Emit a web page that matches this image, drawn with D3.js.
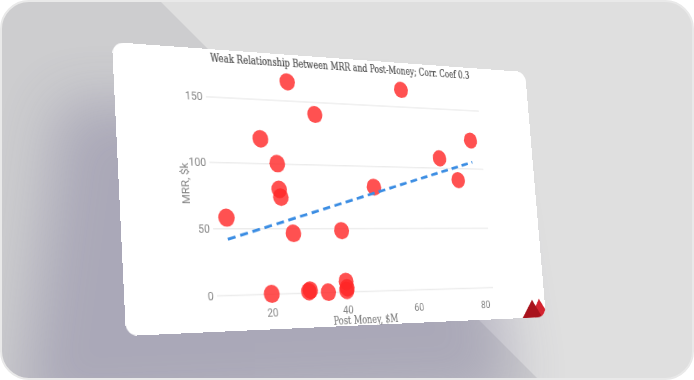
<!DOCTYPE html>
<html>
<head>
<meta charset="utf-8">
<script src="https://cdn.jsdelivr.net/npm/d3@7"></script>
<style>
  html, body { margin: 0; padding: 0; background: #ffffff; }
  #stage { position: relative; width: 694px; height: 380px; overflow: hidden; }
  #bg { position: absolute; left: 0; top: 0; }
  #card {
    position: absolute; left: 0; top: 0;
    width: 560px; height: 311px;
    background: #ffffff; border-radius: 13px; overflow: hidden;
    transform-origin: 0 0;
  }
  #chart { display: block; }
</style>
</head>
<body>
<div id="stage">
  <svg id="bg" width="694" height="380"></svg>
  <div id="card"><svg id="chart" width="560" height="311"></svg></div>
</div>
<script>
// Startups: post-money valuation ($M) vs monthly recurring revenue ($k)
const postMoney = [27.6, 59.5, 34.5, 19.6, 23.6, 23.7, 24.0, 9.8, 26.7, 39.7, 49.6, 69.5, 79.5, 74.7, 20.1, 29.8, 30.2, 35.0, 40.0, 40.0, 40.2];
const mrr       = [165, 164, 140, 119, 100, 80, 74, 58, 46, 48, 83, 108, 124, 90, 0, 1, 2, 0, 8, 1, 3];

// Least-squares trend line end points
const trendX = [9.8, 79.5];
const trendY = [41.7, 105.5];

const xTicks = [20, 40, 60, 80];
const yTicks = [0, 50, 100, 150];

const titleText = "Weak Relationship Between MRR and Post-Money; Corr. Coef 0.3";
const xTitleText = "Post Money, $M";
const yTitleText = "MRR, $k";

// ---- card geometry (flat) and its tilted placement on the stage ----
const W = 560, H = 311;
const cardCorners = [[112, 42], [525, 72], [546, 317], [126, 336]]; // TL, TR, BR, BL

function squareToQuad(q) {
  const [[x0, y0], [x1, y1], [x2, y2], [x3, y3]] = q;
  const dx1 = x1 - x2, dx2 = x3 - x2, dy1 = y1 - y2, dy2 = y3 - y2;
  const sx = x0 - x1 + x2 - x3, sy = y0 - y1 + y2 - y3;
  const det = dx1 * dy2 - dx2 * dy1;
  const g = (sx * dy2 - dx2 * sy) / det;
  const h = (dx1 * sy - sx * dy1) / det;
  return { a: x1 - x0 + g * x1, b: x3 - x0 + h * x3, c: x0,
           d: y1 - y0 + g * y1, e: y3 - y0 + h * y3, f: y0, g, h };
}
const P = squareToQuad(cardCorners);
document.getElementById("card").style.transform =
  `matrix3d(${P.a / W},${P.d / W},0,${P.g / W},${P.b / H},${P.e / H},0,${P.h / H},0,0,1,0,${P.c},${P.f},0,1)`;

// ---- backdrop ----
const bg = d3.select("#bg");
const defs = bg.append("defs");
defs.append("clipPath").attr("id", "frame")
  .append("rect").attr("x", 1).attr("y", 1).attr("width", 692).attr("height", 378).attr("rx", 28);
defs.append("filter").attr("id", "soft").attr("x", "-50%").attr("y", "-50%").attr("width", "200%").attr("height", "200%")
  .append("feGaussianBlur").attr("stdDeviation", 28);

const back = bg.append("g").attr("clip-path", "url(#frame)");
back.append("rect").attr("width", 694).attr("height", 380).attr("fill", "#dfdfdf");
back.append("path").attr("d", "M0,0 L159,0 L539,380 L0,380 Z").attr("fill", "#cdcdcf");
back.append("path")
  .attr("d", "M60,100 L470,120 L515,400 L20,420 Z")
  .attr("fill", "#66608a").attr("opacity", 0.33)
  .attr("filter", "url(#soft)");
bg.append("rect").attr("x", 1).attr("y", 1).attr("width", 692).attr("height", 378).attr("rx", 28)
  .attr("fill", "none").attr("stroke", "#e9e9e9").attr("stroke-width", 2);

// ---- chart on the card ----
const svg = d3.select("#chart");
const plot = { left: 107, right: 481 };

const x = d3.scaleLinear().domain([0, 80]).range([76, 467.2]);
const y = d3.scaleLinear().domain([0, 150]).range([272.1, 53.5]);

const slab = "'DejaVu Serif Condensed', 'DejaVu Serif', serif";
const sans = "Roboto, 'Noto Sans', sans-serif";

// squeeze a label horizontally so it spans the given width around its anchor
function fitWidth(sel, target, cx, cy) {
  const len = sel.node().getComputedTextLength();
  const k = len > 0 ? target / len : 1;
  sel.attr("transform", `translate(${cx},${cy}) scale(${k},1)`);
}

// y axis with gridlines
const yAxis = svg.append("g").attr("transform", `translate(${plot.left},0)`)
  .call(d3.axisLeft(y).tickValues(yTicks).tickSize(-(plot.right - plot.left)).tickPadding(4));
yAxis.select(".domain").remove();
yAxis.selectAll(".tick line").attr("stroke", "#ececec").attr("stroke-width", 1.5);
yAxis.selectAll(".tick text").attr("fill", "#858585").style("font-family", sans).style("font-size", "12.5px");

// x axis labels
const xAxis = svg.append("g").attr("transform", "translate(0,283)")
  .call(d3.axisBottom(x).tickValues(xTicks).tickSize(0).tickPadding(5));
xAxis.select(".domain").remove();
xAxis.selectAll(".tick text").attr("fill", "#858585").style("font-family", sans).style("font-size", "12.5px");

// title
const title = svg.append("text").attr("text-anchor", "middle")
  .attr("font-family", slab).attr("font-size", 13.5).style("font-stretch", "condensed")
  .attr("fill", "#4a4a4a").attr("stroke", "#4a4a4a").attr("stroke-width", 0.2)
  .text(titleText);
fitWidth(title, 356, 293, 14);

// axis titles
const xTitle = svg.append("text").attr("text-anchor", "middle")
  .attr("font-family", slab).attr("font-size", 13).style("font-stretch", "condensed")
  .attr("fill", "#7c7c7c").attr("stroke", "#7c7c7c").attr("stroke-width", 0.15)
  .text(xTitleText);
fitWidth(xTitle, 88, 295.5, 308.5);

const yTitle = svg.append("text").attr("transform", "translate(77,150.5) rotate(-90)")
  .attr("text-anchor", "middle").attr("dy", "0.35em")
  .attr("font-family", sans).attr("font-size", 12.5)
  .attr("fill", "#858585").text(yTitleText);

// points
const pts = postMoney.map((v, i) => ({ x: v, y: mrr[i] }));
svg.append("g").selectAll("circle").data(pts).join("circle")
  .attr("cx", d => x(d.x)).attr("cy", d => y(d.y)).attr("r", 10)
  .attr("fill", "#ff2626").attr("fill-opacity", 0.8);

// trend line
svg.append("path")
  .datum(trendX.map((v, i) => [v, trendY[i]]))
  .attr("d", d3.line().x(d => x(d[0])).y(d => y(d[1])))
  .attr("fill", "none").attr("stroke", "#3b8de3").attr("stroke-width", 3.2)
  .attr("stroke-dasharray", "10 6");

// corner mark
const mark = svg.append("g");
mark.append("path").attr("d", "M536,311 L551,288 L566,311 Z").attr("fill", "#d3232f");
mark.append("path").attr("d", "M523,311 L540,289 L554,311 Z").attr("fill", "#a8121c");
</script>
</body>
</html>
